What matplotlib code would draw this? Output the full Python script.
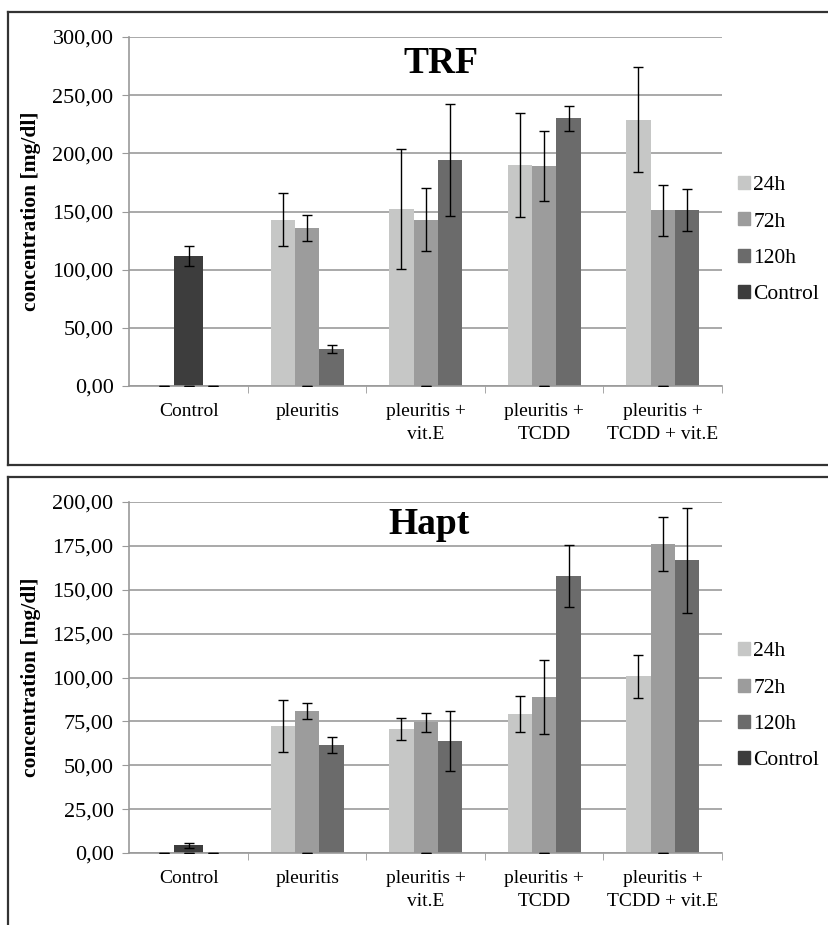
import matplotlib
matplotlib.use("Agg")
import matplotlib.pyplot as plt
import numpy as np
from matplotlib.ticker import FuncFormatter
from matplotlib.patches import Patch

plt.rcParams['font.family'] = ['Liberation Serif', 'DejaVu Serif']

groups = ["Control", "pleuritis", "pleuritis +\nvit.E", "pleuritis +\nTCDD",
          "pleuritis +\nTCDD + vit.E"]
series = ["24h", "72h", "120h", "Control"]
colors = ["#c6c7c6", "#9c9c9c", "#6b6b6b", "#3d3d3d"]

# TRF
trf_24h = [0, 143, 152, 190, 229]
trf_24h_err = [0, 23, 51.5, 45, 45]
trf_72h = [0, 136, 143, 189, 151]
trf_72h_err = [0, 11, 27, 30, 22]
trf_120h = [0, 32, 194, 230, 151]
trf_120h_err = [0, 3.5, 48, 11, 18]
trf_ctrl = [112, 0, 0, 0, 0]
trf_ctrl_err = [8.5, 0, 0, 0, 0]

# Hapt
hapt_24h = [0, 72.3, 70.6, 79.2, 100.6]
hapt_24h_err = [0, 15, 6.2, 10, 12.4]
hapt_72h = [0, 80.9, 74.4, 88.9, 176.1]
hapt_72h_err = [0, 4.5, 5.5, 21, 15.5]
hapt_120h = [0, 61.4, 63.9, 157.8, 166.8]
hapt_120h_err = [0, 4.5, 17, 17.5, 30]
hapt_ctrl = [4.4, 0, 0, 0, 0]
hapt_ctrl_err = [1.4, 0, 0, 0, 0]

fig = plt.figure(figsize=(8.29, 9.25), dpi=100)

# panel frames
fig.add_artist(plt.Line2D([0.0097, 0.0097], [0.497, 0.987], color="#333333", lw=1.6))
fig.add_artist(plt.Line2D([0.0097, 1.0], [0.987, 0.987], color="#333333", lw=1.6))
fig.add_artist(plt.Line2D([0.0097, 1.0], [0.497, 0.497], color="#333333", lw=1.6))
fig.add_artist(plt.Line2D([0.0097, 0.0097], [0.0, 0.4843], color="#333333", lw=1.6))
fig.add_artist(plt.Line2D([0.0097, 1.0], [0.4843, 0.4843], color="#333333", lw=1.6))


def panel(rect, vals, errs, ctrl, ctrl_err, ymax, step, title, tx, ty):
    ax = fig.add_axes(rect)
    x = np.arange(len(groups))
    w = 0.206
    for i in range(3):
        ax.bar(x + (i - 1) * w, vals[i], w, color=colors[i], zorder=2)
        ax.errorbar(x + (i - 1) * w, vals[i], yerr=errs[i], fmt="none",
                    ecolor="black", elinewidth=1, capsize=3.5, capthick=1, zorder=3)
    ax.bar(x, ctrl, 0.245, color=colors[3], zorder=2)
    ax.errorbar(x, ctrl, yerr=ctrl_err, fmt="none", ecolor="black",
                elinewidth=1, capsize=3.5, capthick=1, zorder=3)
    ax.set_xlim(-0.5, 4.5)
    ax.set_ylim(0, ymax)
    ax.set_yticks(np.arange(0, ymax + 1, step))
    ax.yaxis.set_major_formatter(FuncFormatter(lambda v, p: f"{v:.2f}".replace(".", ",")))
    ax.set_xticks(x)
    ax.set_xticklabels(groups, fontsize=14, linespacing=1.45)
    ax.set_xticks(np.arange(0.5, 4.6, 1), minor=True)
    ax.tick_params(axis="x", which="major", length=0, pad=12)
    ax.tick_params(axis="x", which="minor", length=5, color="#999999")
    ax.tick_params(axis="y", length=5, color="#999999", labelsize=16, pad=6.5)
    ax.grid(axis="y", color="#a3a3a3", lw=1.3, zorder=0)
    for s in ["top", "right"]:
        ax.spines[s].set_visible(False)
    for s in ["left", "bottom"]:
        ax.spines[s].set_color("#999999")
        ax.spines[s].set_linewidth(1.2)
    ax.set_ylabel("concentration [mg/dl]", fontsize=15.5, fontweight="bold")
    ax.yaxis.set_label_coords(-0.15, 0.5)
    ax.text(tx, ty, title, transform=ax.transAxes, fontsize=27, fontweight="bold",
            ha="center", va="center")
    handles = [Patch(color=c) for c in colors]
    ax.legend(handles, series, loc="center left", bbox_to_anchor=(0.995, 0.418),
              frameon=False, fontsize=15.5, handlelength=0.55, handleheight=0.55,
              handletextpad=0.15, labelspacing=0.8)
    return ax


panel([0.1562, 0.5827, 0.7147, 0.3773],
      [trf_24h, trf_72h, trf_120h], [trf_24h_err, trf_72h_err, trf_120h_err],
      trf_ctrl, trf_ctrl_err, 300, 50, "TRF", 0.525, 0.925)
panel([0.1562, 0.0778, 0.7147, 0.3795],
      [hapt_24h, hapt_72h, hapt_120h], [hapt_24h_err, hapt_72h_err, hapt_120h_err],
      hapt_ctrl, hapt_ctrl_err, 200, 25, "Hapt", 0.505, 0.935)

fig.savefig("out.png", dpi=100)
